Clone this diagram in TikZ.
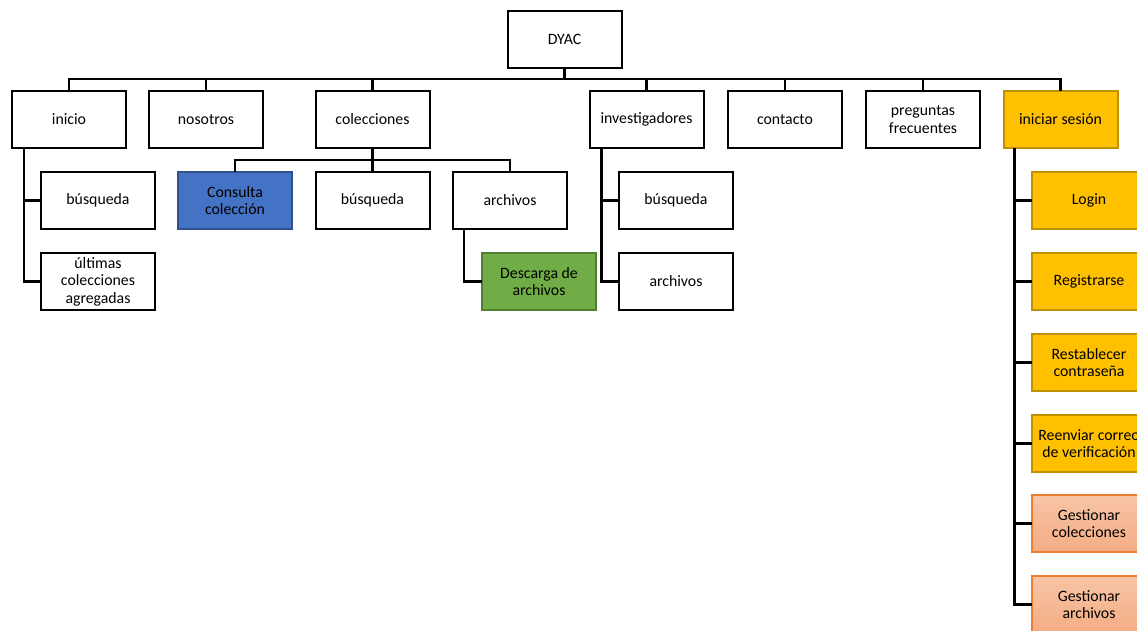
\documentclass[tikz,border=0pt]{standalone}
\usepackage{fontspec}
\setmainfont{Carlito}
\definecolor{blueF}{HTML}{4472C4}
\definecolor{blueD}{HTML}{2F528F}
\definecolor{greenF}{HTML}{70AD47}
\definecolor{greenD}{HTML}{507E32}
\definecolor{goldF}{HTML}{FFC000}
\definecolor{goldD}{HTML}{BF9000}
\definecolor{salT}{HTML}{F7C4A6}
\definecolor{salB}{HTML}{F4AD84}
\definecolor{salD}{HTML}{ED7D31}
\tikzset{
  box/.style={draw=black, line width=2pt, minimum width=114pt, minimum height=57pt,
    align=center, inner sep=0pt, fill=white, text=black,
    font=\fontsize{15.8}{17.5}\selectfont},
  bluebox/.style={box, fill=blueF, draw=blueD},
  greenbox/.style={box, fill=greenF, draw=greenD},
  goldbox/.style={box, fill=goldF, draw=goldD},
  salbox/.style={box, top color=salT, bottom color=salB, draw=salD},
  conn/.style={line width=2.5pt, draw=black, line cap=rect}
}
\begin{document}
\begin{tikzpicture}[x=1pt,y=-1pt]
\clip (0,0) rectangle (1137,631);
\fill[white] (0,0) rectangle (1137,631);
% top
\node[box] (dyac) at (564.5,39.5) {DYAC};
\coordinate (bus) at (0,79);
% level 1
\node[box] (inicio) at (69,119.5) {inicio};
\node[box] (nos) at (206,119.5) {nosotros};
\node[box] (col) at (372.5,119.5) {colecciones};
\node[box] (inv) at (646.5,119.5) {investigadores};
\node[box] (cont) at (785,119.5) {contacto};
\node[box] (preg) at (923,119.5) {preguntas\\frecuentes};
\node[goldbox] (ses) at (1060.5,119.5) {iniciar sesión};
% inicio children
\node[box] (ibus) at (98,200.5) {búsqueda};
\node[box] (iult) at (98,281.5) {últimas\\colecciones\\agregadas};
% colecciones children
\node[bluebox] (ccon) at (235,200.5) {Consulta\\colección};
\node[box] (cbus) at (372.5,200.5) {búsqueda};
\node[box] (carc) at (510,200.5) {archivos};
\node[greenbox] (cdes) at (539,281.5) {Descarga de\\archivos};
% investigadores children
\node[box] (vbus) at (676,200.5) {búsqueda};
\node[box] (varc) at (676,281.5) {archivos};
% iniciar sesion children
\node[goldbox] (login) at (1089,200.5) {Login};
\node[goldbox] (reg) at (1089,281.5) {Registrarse};
\node[goldbox] (rest) at (1089,362.5) {Restablecer\\contraseña};
\node[goldbox] (reen) at (1089,443.5) {Reenviar correo\\de verificación};
\node[salbox] (gcol) at (1089,523.5) {Gestionar\\colecciones};
\node[salbox] (garc) at (1089,604.5) {Gestionar\\archivos};
% connectors level 0-1
\draw[conn] (dyac.south) -- (dyac.south |- bus);
\draw[conn] (inicio.north) -- (inicio.north |- bus) -- (ses.north |- bus) -- (ses.north);
\foreach \n in {nos,col,inv,cont,preg} \draw[conn] (\n.north) -- (\n.north |- bus);
% inicio
\coordinate (istem) at ([xshift=13pt]inicio.south west);
\draw[conn] (istem) |- (iult.west);
\draw[conn] (istem |- ibus.west) -- (ibus.west);
% colecciones
\coordinate (cbar) at ([yshift=-11pt]col.south);
\draw[conn] (col.south) -- (cbar);
\draw[conn] (ccon.north) -- (ccon.north |- cbar) -- (carc.north |- cbar) -- (carc.north);
\draw[conn] (cbus.north) -- (cbus.north |- cbar);
\coordinate (astem) at ([xshift=12pt]carc.south west);
\draw[conn] (astem) |- (cdes.west);
% investigadores
\coordinate (vstem) at ([xshift=13pt]inv.south west);
\draw[conn] (vstem) |- (varc.west);
\draw[conn] (vstem |- vbus.west) -- (vbus.west);
% iniciar sesion
\coordinate (sstem) at ([xshift=12pt]ses.south west);
\draw[conn] (sstem) |- (garc.west);
\foreach \n in {login,reg,rest,reen,gcol} \draw[conn] (sstem |- \n.west) -- (\n.west);
\end{tikzpicture}
\end{document}
